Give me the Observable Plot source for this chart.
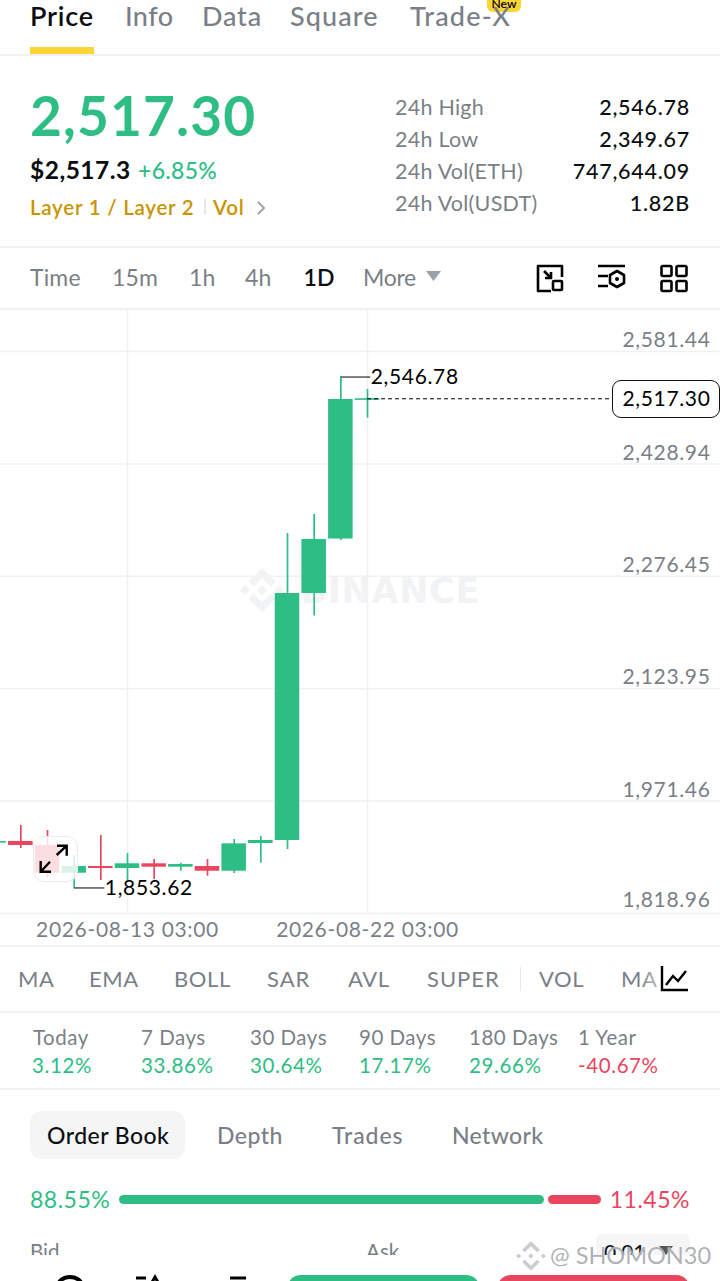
<!DOCTYPE html>
<html>
<head>
<meta charset="utf-8">
<script src="https://cdn.jsdelivr.net/npm/d3@7"></script>
<script src="https://cdn.jsdelivr.net/npm/@observablehq/plot@0.6"></script>
<style>
html,body{margin:0;padding:0;background:#fff;width:720px;height:1281px;overflow:hidden;font-family:Lato,"Open Sans",sans-serif;}
#page{position:relative;width:720px;height:1281px;overflow:hidden;}
#chart{position:absolute;left:0;top:309px;width:720px;}
#chart text{letter-spacing:.65px;}
.t{position:absolute;white-space:nowrap;line-height:1;transform:translateY(-50%);}
.r{transform:translate(-100%,-50%);}
.b{position:absolute;}
svg.ic{position:absolute;overflow:visible;}
</style>
</head>
<body>
<div id="page"><div id="chart"></div></div>
<script>
// ---- candle data (daily) ----
const dates = ["2026-08-08","2026-08-09","2026-08-10","2026-08-11","2026-08-12","2026-08-13","2026-08-14","2026-08-15","2026-08-16","2026-08-17","2026-08-18","2026-08-19","2026-08-20","2026-08-21","2026-08-22"];
const opens  = [1914.5,1916.7,1911.2,1873.6,1882.7,1880.0,1886.4,1881.8,1882.7,1876.3,1913.9,1918.0,2253.1,2327.0,2515.1];
const closes = [1916.7,1911.2,1873.6,1882.7,1880.0,1886.4,1881.8,1885.4,1876.3,1913.5,1918.0,2253.1,2326.4,2516.3,2517.3];
const highs  = [1917.5,1938.4,1931.6,1897.7,1924.8,1900.3,1892.2,1887.2,1892.2,1919.4,1923.4,2334.5,2360.3,2546.78,2529.9];
const lows   = [1913.0,1907.1,1867.8,1853.62,1863.7,1863.7,1865.1,1876.3,1869.6,1873.2,1887.2,1905.8,2222.6,2325.0,2490.9];
const yTicks = [2581.44,2428.94,2276.45,2123.95,1971.46];
const yBottomTick = [1818.96];
const xTicks = ["2026-08-13","2026-08-22"];
const high = 2546.78, low = 1853.62, last = 2517.30;

const GREEN="#2EBD85", RED="#E9455F", GRID="#F0F1F2", GREY="#7A7F87", INK="#0B0E11";
const FONT='Lato,"Open Sans",sans-serif';
const T = s => new Date(s+"T03:00:00Z");
const DAY = 864e5;
const candles = dates.map((d,i)=>({date:T(d),open:opens[i],close:closes[i],high:highs[i],low:lows[i]}));
const fmt = d3.format(",.2f");
const fmtDate = d => d3.utcFormat("%Y-%m-%d %H:%M")(d);
const logoPath="M38.73 53.2l24.59-24.58 24.6 24.6 14.3-14.31L63.32 0 24.42 38.9zM0 63.31l14.3-14.31 14.31 14.31-14.31 14.3zM38.73 73.41l24.59 24.59 24.6-24.6 14.31 14.29-38.9 38.91-38.91-38.88zM98 63.31l14.3-14.31 14.31 14.31-14.31 14.3zM77.83 63.3L63.32 48.78 52.59 59.51l-1.24 1.23-2.54 2.54 14.51 14.53 14.51-14.51z";

const plot = Plot.plot({
  width:720,height:636,marginTop:0,marginBottom:32,marginLeft:0,marginRight:0,
  style:{fontFamily:FONT,background:"transparent",overflow:"hidden"},
  x:{type:"utc",domain:[new Date("2026-08-08T08:42:00Z"),new Date("2026-09-04T08:40:00Z")],label:null},
  y:{domain:[1818.96,2638.42],label:null},
  marks:[
    Plot.ruleY(yTicks.concat(yBottomTick),{stroke:GRID,strokeWidth:1.5}),
    Plot.ruleX(xTicks.map(T),{stroke:GRID,strokeWidth:1.5}),
    // watermark
    ()=>{const g=d3.create("svg:g").attr("transform","translate(240,259) scale(0.35)").attr("fill","#F2F3F4");
      g.append("path").attr("d",logoPath);return g.node();},
    Plot.text(["BINANCE"],{frameAnchor:"top-left",dx:300,dy:269,textAnchor:"start",fontFamily:"DejaVu Sans",fontSize:35,fontWeight:700,fill:"#F2F3F4"}),
    // wicks
    Plot.ruleX(candles,{x:"date",y1:"low",y2:"high",stroke:d=>d.close>=d.open?GREEN:RED,strokeWidth:1.7}),
    // bodies
    Plot.rect(candles,{x1:d=>new Date(+d.date-0.46*DAY),x2:d=>new Date(+d.date+0.46*DAY),y1:"open",y2:"close",fill:d=>d.close>=d.open?GREEN:RED}),
    // high / low leaders
    Plot.ruleY([high],{x1:T("2026-08-21"),x2:new Date(+T("2026-08-22")+0.12*DAY),stroke:"#000",strokeWidth:1}),
    Plot.ruleX([T("2026-08-21")],{y1:high,y2:2540,stroke:GREEN,strokeWidth:1.7}),
    Plot.text([high],{x:new Date(+T("2026-08-22")+0.12*DAY),y:d=>d,text:d=>fmt(d),textAnchor:"start",dx:0,dy:0.5,fontSize:21,fill:"#000"}),
    Plot.ruleY([low],{x1:T("2026-08-11"),x2:new Date(+T("2026-08-12")+0.15*DAY),stroke:"#000",strokeWidth:1}),
    Plot.text([low],{x:new Date(+T("2026-08-12")+0.15*DAY),y:d=>d,text:d=>fmt(d),textAnchor:"start",dx:0,dy:0.5,fontSize:21,fill:"#000"}),
    // last price
    Plot.ruleY([last],{x1:T("2026-08-22"),x2:new Date("2026-08-31T06:36:00Z"),stroke:"#000",strokeWidth:1,strokeDasharray:"4 3"}),
    // axes
    Plot.axisY({ticks:yTicks,anchor:"right",tickSize:0,tickPadding:0,textAnchor:"end",dx:-10,dy:-11,fontSize:21,fill:GREY,color:GREY,tickFormat:fmt,label:null}),
    Plot.axisY({ticks:yBottomTick,anchor:"right",tickSize:0,tickPadding:0,textAnchor:"end",dx:-10,dy:-13,fontSize:21,fill:GREY,color:GREY,tickFormat:fmt,label:null}),
    Plot.axisX({ticks:xTicks.map(T),anchor:"bottom",tickSize:0,tickPadding:9,fontSize:21,fill:GREY,color:GREY,tickFormat:fmtDate,label:null})
  ]
});
document.getElementById("chart").append(plot);

// ---- surrounding app screen ----
const page=document.getElementById("page");
function put(text,x,y,size,color,opt={}){
  const e=document.createElement("div");e.className="t"+(opt.right?" r":"");
  e.textContent=text;
  e.style.cssText=`left:${x}px;top:${y}px;font-size:${size}px;color:${color};font-weight:${opt.w||400};letter-spacing:${opt.ls||0}px;`+(opt.css||"");
  (opt.parent||page).append(e);return e;
}
function box(x,y,w,h,bg,r=0,css=""){
  const e=document.createElement("div");e.className="b";
  e.style.cssText=`left:${x}px;top:${y}px;width:${w}px;height:${h}px;background:${bg};border-radius:${r}px;`+css;
  page.append(e);return e;
}
function icon(x,y,w,h,inner){
  page.insertAdjacentHTML("beforeend",`<svg class="ic" style="left:${x}px;top:${y}px" width="${w}" height="${h}" viewBox="0 0 ${w} ${h}" fill="none" stroke="#000" stroke-width="2.6">${inner}</svg>`);
}
// hairlines
[[54,1.5],[246,1.5],[307.5,2],[945,1.5],[1011,1.5],[1088,1.5]].forEach(([y,h])=>box(0,y,720,h,"#F0F1F2"));

// tabs
const tabs=["Price","Info","Data","Square","Trade-X"], tabX=[30,125,202,290,410], tabLs=[.8,.4,.8,1.1,1.2];
box(487,-8,34,20,"#FCD535",6);
tabs.forEach((t,i)=>put(t,tabX[i],14.5,27,i?GREY:INK,{w:i?500:600,ls:tabLs[i]}));
put("New",504,4,12,"#000",{css:"transform:translate(-50%,-50%);font-weight:600;"});
box(30,47,64,7,"#FCD535");

// price block
put("2,517.30",30,114.5,55,GREEN,{w:700,ls:1.1});
put("$2,517.3",30,170,24.5,INK,{w:700,ls:.5});
put("+6.85%",138,170,23,GREEN,{w:500,ls:.3});
put("Layer 1 / Layer 2",30,207,20.5,"#C99400",{w:600,ls:.75});
box(204,199,1.5,16,"#E6E8EA");
put("Vol",213,207,20.5,"#C99400",{w:600,ls:.8});
icon(256,200,12,16,'<path d="M2 2l6 6-6 6" stroke="#9AA0A8" stroke-width="1.8"/>');

// 24h stats
const statLabels=["24h High","24h Low","24h Vol(ETH)","24h Vol(USDT)"];
const statValues=["2,546.78","2,349.67","747,644.09","1.82B"];
const statY=[108,140,172,204];
statLabels.forEach((s,i)=>{put(s,395,statY[i],21.5,GREY,{ls:.25});put(statValues[i],690,statY[i],21.5,INK,{right:1,ls:.75,w:500});});

// interval bar
const ivals=["Time","15m","1h","4h","1D","More"], ivalX=[30,112,189,245,303.5,363];
ivals.forEach((s,i)=>put(s,ivalX[i],277,23,s==="1D"?INK:GREY,{w:s==="1D"?600:400,ls:s==="More"?-.3:.15}));
icon(426,271,15,11,'<path d="M0 0h15L7.5 10z" fill="#9AA0A8" stroke="none"/>');
icon(536,264,30,30,'<path d="M14 2H2v25h13M14 2h12v11" stroke-linejoin="round"/><rect x="17" y="17" width="9" height="9" rx="1"/><path d="M8 7l7 7M15 8v6H9"/>');
icon(597,264,30,30,'<path d="M1 2h27M1 12h10M1 22h10"/><path d="M20 7l7 4v8l-7 4-7-4v-8z" stroke-linejoin="round"/><circle cx="20" cy="15" r="2" fill="#000" stroke="none"/>');
icon(660,264,30,30,'<rect x="1.5" y="2" width="10" height="10" rx="1.5"/><rect x="16.5" y="2" width="10" height="10" rx="1.5"/><rect x="1.5" y="17" width="10" height="10" rx="1.5"/><rect x="16.5" y="17" width="10" height="10" rx="1.5"/>');

// current price pill
box(612,380,106,36,"#fff",9,"border:1.2px solid #111;");
put(fmt(last),710.5,397,21,"#000",{right:1,ls:.65});

// expand button over the chart
box(33,836,43,44,"rgba(255,255,255,.82)",11,"border:1.5px solid #ECECEC;");
icon(38,842,34,34,'<path d="M18.7 13L28.7 3.7M19 3.7h9.7v10M12 19.7L2.7 29.7M2.7 19v10.7H13" stroke-width="2.4"/>');

// indicators
const inds=["MA","EMA","BOLL","SAR","AVL","SUPER","VOL","MA"], indX=[18,89,174,267,348,427,539,621];
inds.forEach((s,i)=>put(s,indX[i],979,22,GREY,{ls:s==="SAR"||s==="SUPER"?1:.6}));
box(520,967,1,24,"#E6E8EA");
box(640,960,80,40,"linear-gradient(90deg,rgba(255,255,255,0),#fff 45%)");
icon(660,965,30,28,'<path d="M2 1v24h26" stroke-width="2.4"/><path d="M6 20l7-9 5 5 8-10" stroke-width="2.4"/>');

// performance
const periods=["Today","7 Days","30 Days","90 Days","180 Days","1 Year"];
const changes=[3.12,33.86,30.64,17.17,29.66,-40.67];
const perfX=[33,141,250,359,469,578];
periods.forEach((p,i)=>{put(p,perfX[i],1036.5,20.5,GREY,{ls:.5});
  const v=changes[i];put((v<0?"-":"")+Math.abs(v).toFixed(2)+"%",i===0?32:perfX[i],1065,20.5,v<0?RED:GREEN,{ls:.6});});

// order-book tabs
box(30,1111,155,48,"#F5F5F5",12);
const obt=["Order Book","Depth","Trades","Network"], obX=[47,217,332,452], obLs=[.45,.45,.9,.35];
obt.forEach((s,i)=>put(s,obX[i],1134.5,23,i?GREY:INK,{w:500,ls:obLs[i]}));

// bid / ask bar
const bidPct=88.55, askPct=11.45;
put(bidPct.toFixed(2)+"%",30,1199,23,GREEN,{ls:.5});
box(119,1195,425,9,GREEN,4.5);
box(548,1195,53,9,RED,4.5);
put(askPct.toFixed(2)+"%",690,1199,23,RED,{right:1,ls:.5});

// cropped rows at the bottom
const crop=document.createElement("div");
crop.style.cssText="position:absolute;left:0;top:1225px;width:720px;height:30px;overflow:hidden;";
page.append(crop);
put("Bid",30,26,20.5,GREY,{parent:crop});
put("Ask",366,26,20.5,GREY,{parent:crop});
const sel=document.createElement("div");sel.style.cssText="position:absolute;left:596px;top:9px;width:94px;height:40px;background:#F5F5F5;border-radius:6px;";crop.append(sel);
put("0.01",604,26,21,INK,{parent:crop});
icon(659,1246,14,9,'<path d="M0 0h14L7 9z" fill="#555" stroke="none"/>');

// bottom bar
box(287,1275,193,40,GREEN,14);
box(497,1275,193,40,RED,14);
icon(52,1276,36,8,'<path d="M6 10a12 9 0 0 1 24 0" stroke-width="4"/>');
icon(134,1276,28,8,'<path d="M2 2h10M17 8l4-7 4 7" stroke-width="3"/>');
icon(228,1276,20,8,'<path d="M2 2h16" stroke-width="3"/>');

// corner watermark
page.insertAdjacentHTML("beforeend",`<svg class="ic" style="left:515px;top:1240px" width="32" height="32" viewBox="0 0 127 127"><path d="${logoPath}" fill="#C9CDD2" stroke="#fff" stroke-width="6"/></svg>`);
put("@ SHOMON30",550,1256,23.5,"rgba(120,125,132,.62)",{css:"text-shadow:0 0 1px #fff;"});
</script>
</body>
</html>
